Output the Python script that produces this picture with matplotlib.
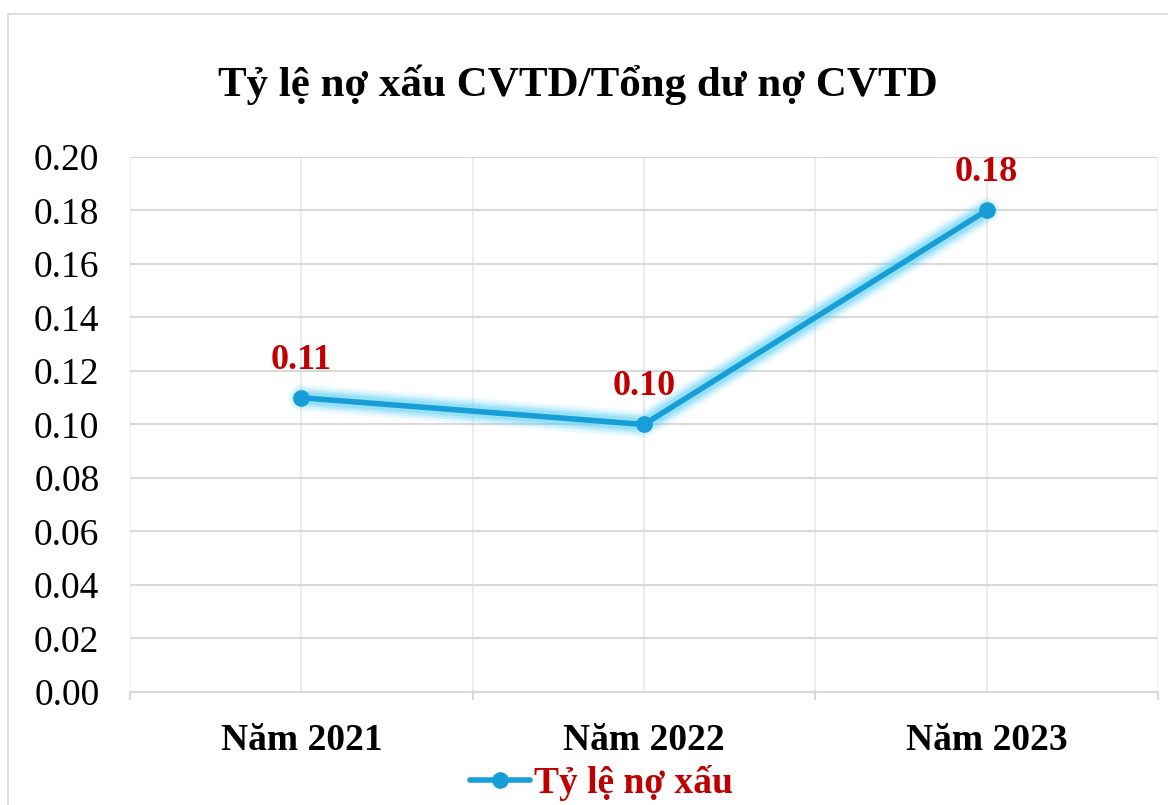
import matplotlib.pyplot as plt
from matplotlib.patches import Rectangle

plt.rcParams['font.family'] = ['Liberation Serif', 'DejaVu Serif']

# data
years = ['Năm 2021', 'Năm 2022', 'Năm 2023']
no_xau = [0.11, 0.10, 0.18]
labels = ['0.11', '0.10', '0.18']
yticks = [0.00, 0.02, 0.04, 0.06, 0.08, 0.10, 0.12, 0.14, 0.16, 0.18, 0.20]

line_color = '#179dd8'
glow_color = '#5fd3f7'
label_color = '#c00000'
grid_color = '#d9d9d9'

fig = plt.figure(figsize=(11.68, 8.05), dpi=100)
ax = fig.add_axes([0.1113, 0.1404, 0.8801, 0.6646])

# outer chart border
fig.patches.append(Rectangle((8 / 1168, -0.1), 1.2, 1.0 - 14 / 805 + 0.1,
                             transform=fig.transFigure, fill=False,
                             edgecolor='#d9d9d9', lw=1.2))

x = list(range(len(years)))

# glow under the line
for lw, a in [(19, 0.12), (15, 0.18), (12, 0.25), (9, 0.35)]:
    ax.plot(x, no_xau, color=glow_color, lw=lw, alpha=a,
            solid_capstyle='round', zorder=2)
ax.plot(x, no_xau, color=line_color, lw=4, marker='o', markersize=11,
        solid_capstyle='round', zorder=3, label='Tỷ lệ nợ xấu')

for xi, v, t in zip(x, no_xau, labels):
    ax.annotate(t, (xi, v), xytext=(0, 27), textcoords='offset points',
                ha='center', va='center', fontsize=26, fontweight='bold',
                color=label_color)

ax.set_xlim(-0.5, 2.5)
ax.set_ylim(0, 0.20)
ax.set_yticks(yticks)
ax.set_yticklabels([f'{v:.2f}' for v in yticks], fontsize=27)
ax.set_xticks(x)
ax.set_xticklabels(years, fontsize=27, fontweight='bold')
ax.set_xticks([-0.5, 0.5, 1.5, 2.5], minor=True)

ax.grid(axis='y', color=grid_color, lw=1.5)
ax.grid(axis='x', which='both', color='#ececec', lw=1.5)
ax.set_axisbelow(True)

for s in ['top', 'right', 'left']:
    ax.spines[s].set_visible(False)
ax.spines['bottom'].set_color('#d9d9d9')
ax.spines['bottom'].set_linewidth(1.5)
ax.tick_params(axis='y', length=0, pad=22)
ax.tick_params(axis='x', which='major', length=0, pad=22)
ax.tick_params(axis='x', which='minor', length=6, color='#d9d9d9', width=1.5)

fig.text(0.495, 0.895, 'Tỷ lệ nợ xấu CVTD/Tổng dư nợ CVTD', ha='center',
         va='center', fontsize=31, fontweight='bold')

leg = fig.legend(loc='center', bbox_to_anchor=(0.515, 0.027), frameon=False,
                 handlelength=1.6, handletextpad=0.1, borderaxespad=0,
                 prop={'size': 27, 'weight': 'bold'})
for t in leg.get_texts():
    t.set_color(label_color)

fig.savefig('out.png', dpi=100)
